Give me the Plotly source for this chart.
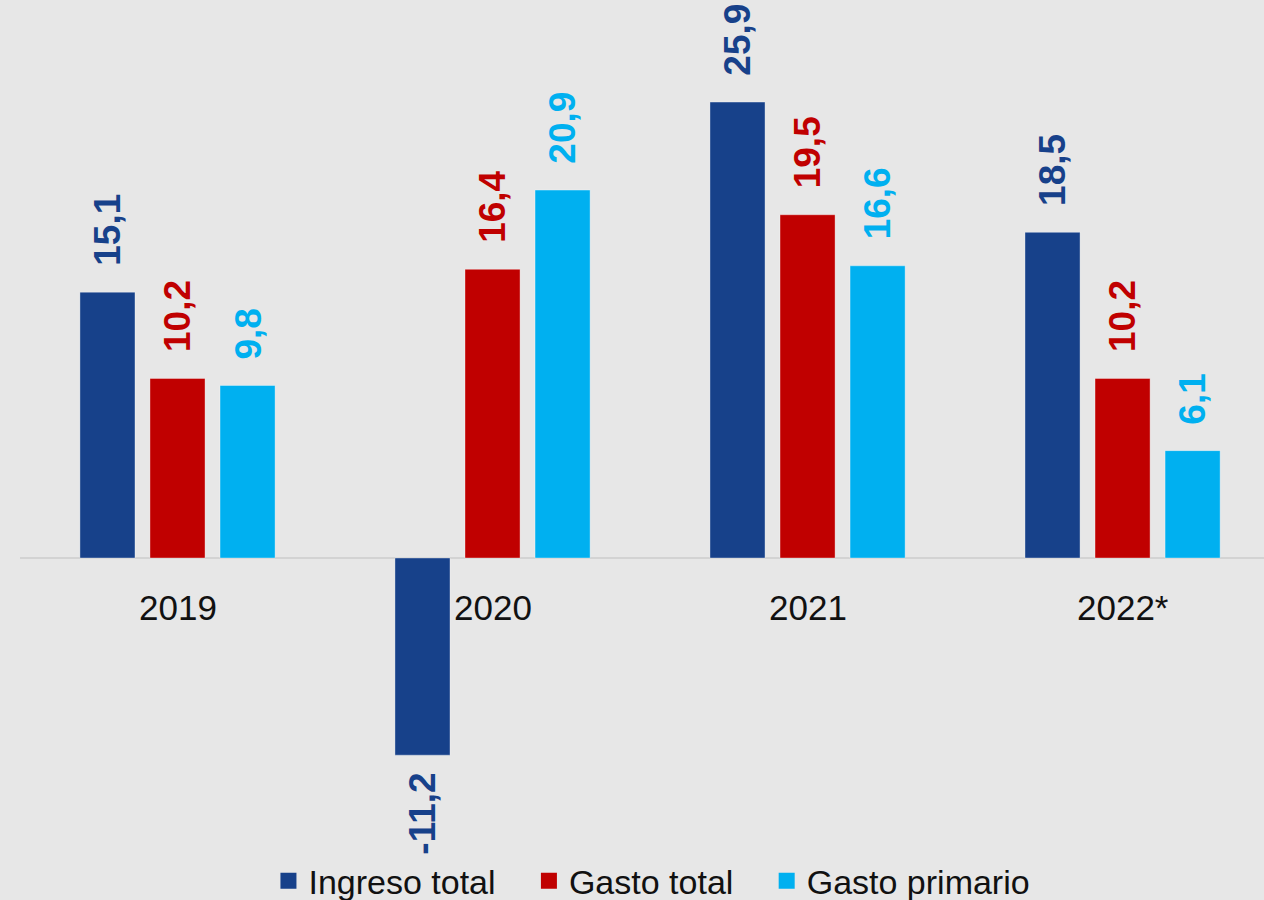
import plotly.graph_objects as go

years = ["2019", "2020", "2021", "2022*"]
ingreso_total = [15.1, -11.2, 25.9, 18.5]
gasto_total = [10.2, 16.4, 19.5, 10.2]
gasto_primario = [9.8, 20.9, 16.6, 6.1]

series = [
    ("Ingreso total", ingreso_total, "#17418a"),
    ("Gasto total", gasto_total, "#c00000"),
    ("Gasto primario", gasto_primario, "#00b0f0"),
]

def fmt(v):
    return f"{v:.1f}".replace(".", ",")

fig = go.Figure()
shifts = [-70, 0, 70]
annotations = []
for k, ((name, vals, color), xs) in enumerate(zip(series, shifts)):
    fig.add_trace(go.Bar(
        x=years, y=vals, name=name, marker_color=color,
        marker_line=dict(color="rgba(255,255,255,0.35)", width=1),
        showlegend=False,
    ))
    legend_name = name + ("\u00a0\u00a0\u00a0" if k < len(series) - 1 else "")
    fig.add_trace(go.Scatter(
        x=[None], y=[None], mode="markers", name=legend_name,
        marker=dict(symbol="square", size=16, color=color),
    ))
    for i, v in enumerate(vals):
        annotations.append(dict(
            x=i, y=v, xref="x", yref="y", text=fmt(v), showarrow=False,
            textangle=-90, xshift=xs,
            yanchor="bottom" if v >= 0 else "top",
            yshift=24 if v >= 0 else -16,
            font=dict(family="Liberation Sans", size=37, color=color, weight="bold"),
        ))

for i, x in enumerate(years):
    annotations.append(dict(
        x=i, y=0, xref="x", yref="y", text=x, showarrow=False,
        yanchor="middle", yshift=-49,
        font=dict(family="Liberation Sans", size=35, color="#111111"),
    ))

fig.update_layout(
    width=1264, height=900,
    margin=dict(l=20, r=0, t=0, b=60),
    paper_bgcolor="#e7e7e7", plot_bgcolor="#e7e7e7",
    barmode="group", bargap=0.333, bargroupgap=0.214,
    showlegend=True,
    legend=dict(orientation="h", x=0.508, xanchor="center", yref="container",
                y=0.021, yanchor="middle",
                font=dict(family="Liberation Sans", size=34, color="#111111"),
                itemwidth=30, traceorder="normal", bgcolor="rgba(0,0,0,0)"),
    annotations=annotations,
    xaxis=dict(type="category", range=[-0.5, 3.449], showticklabels=False,
               showgrid=False, zeroline=False, showline=False, ticks=""),
    yaxis=dict(range=[-16.02, 31.7], showticklabels=False, showgrid=False,
               zeroline=True, zerolinecolor="#d3d3d3", zerolinewidth=2,
               showline=False, ticks=""),
)

fig.write_html("out.html", config={"displayModeBar": False},
               post_script="document.body.style.margin='0';document.body.style.overflow='hidden';")
